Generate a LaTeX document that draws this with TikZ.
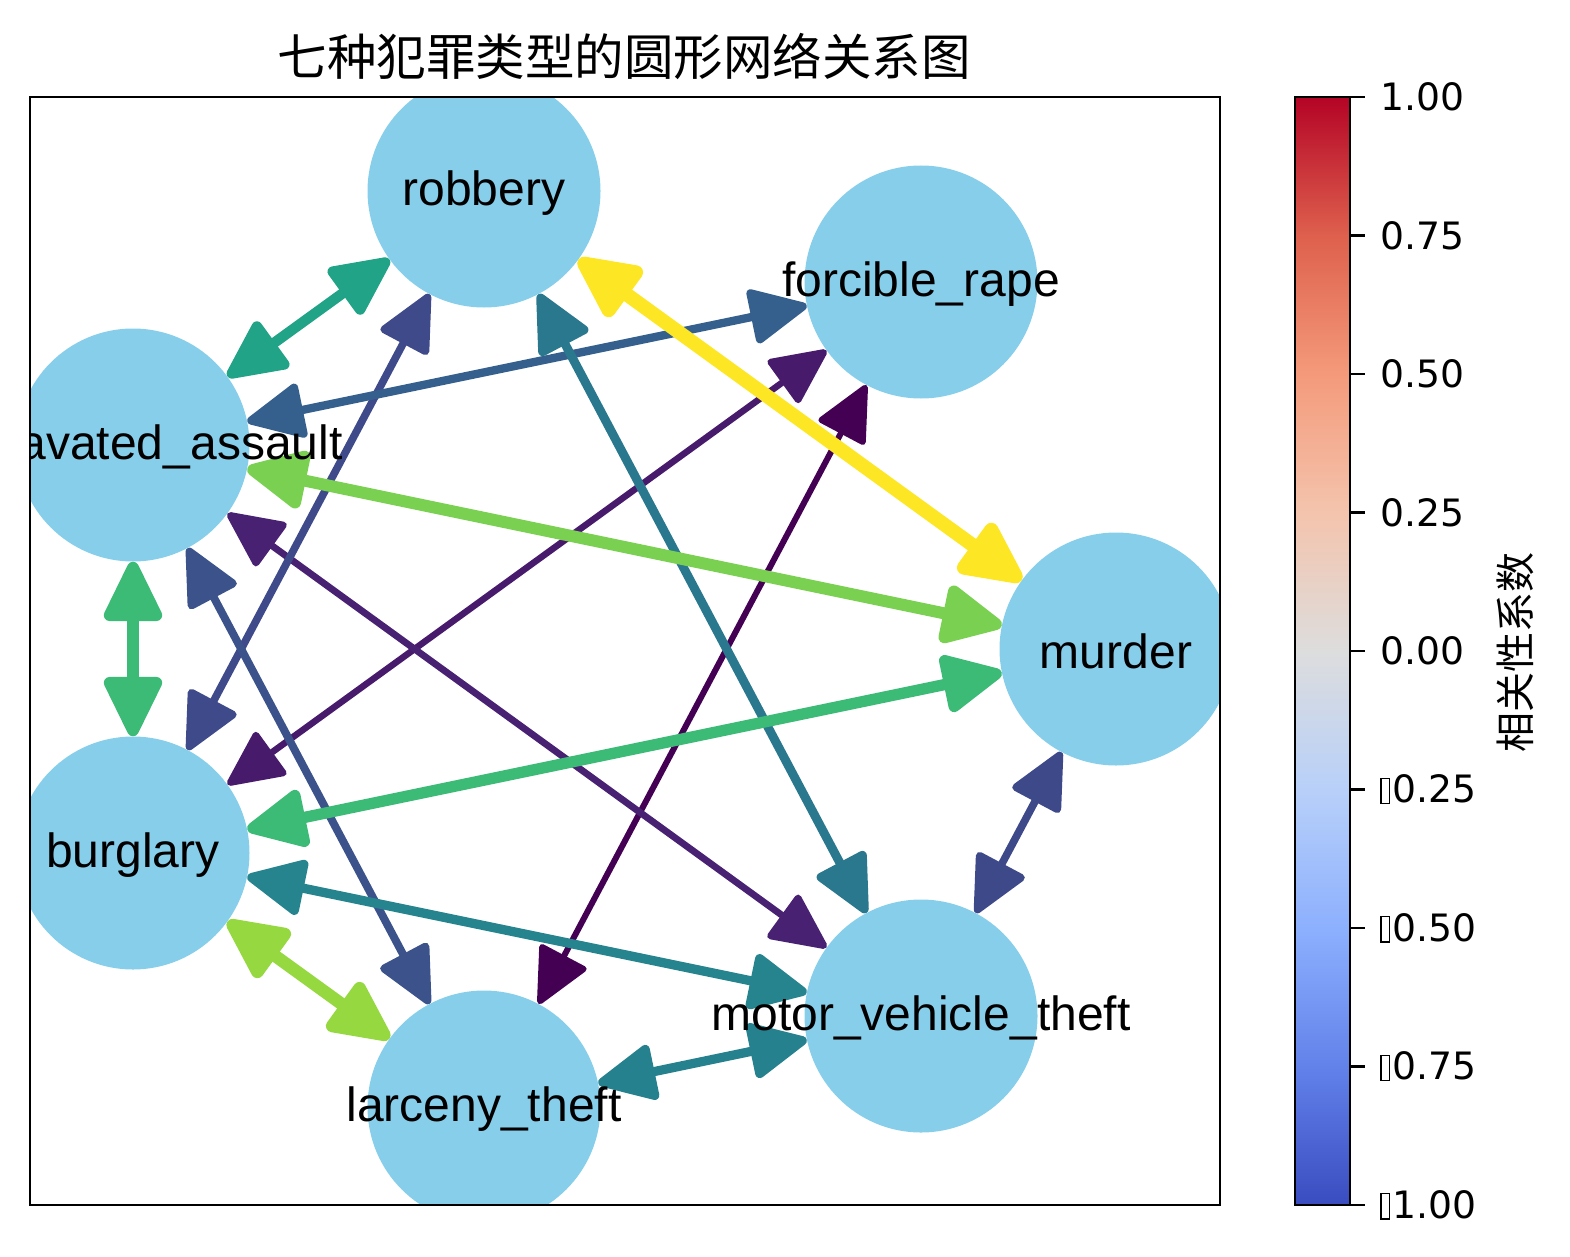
\documentclass[tikz,border=0pt]{standalone}
\usepackage{fontspec}
\setmainfont{Liberation Sans}
\newfontfamily\dejavu{DejaVu Sans}
\newfontfamily\cjk{Noto Sans CJK SC}
\usetikzlibrary{arrows.meta}
\definecolor{skyblue}{HTML}{87CEEB}
\definecolor{cw0}{RGB}{58,76,192}
\definecolor{cw1}{RGB}{98,130,234}
\definecolor{cw2}{RGB}{141,176,254}
\definecolor{cw3}{RGB}{184,208,249}
\definecolor{cw4}{RGB}{221,221,221}
\definecolor{cw5}{RGB}{244,196,173}
\definecolor{cw6}{RGB}{244,154,123}
\definecolor{cw7}{RGB}{222,96,77}
\definecolor{cw8}{RGB}{180,4,38}
\pgfdeclareverticalshading{coolwarm}{100bp}{color(0bp)=(cw0); color(25bp)=(cw0); color(31.25bp)=(cw1); color(37.5bp)=(cw2); color(43.75bp)=(cw3); color(50bp)=(cw4); color(56.25bp)=(cw5); color(62.5bp)=(cw6); color(68.75bp)=(cw7); color(75bp)=(cw8); color(100bp)=(cw8)}
\definecolor{vYel}{HTML}{FDE725}
\definecolor{vLime}{HTML}{95D840}
\definecolor{vLgreen}{HTML}{7AD151}
\definecolor{vGreen}{HTML}{3BBB75}
\definecolor{vTgreen}{HTML}{20A386}
\definecolor{vTealA}{HTML}{25848E}
\definecolor{vTealB}{HTML}{26818E}
\definecolor{vTealC}{HTML}{2A788E}
\definecolor{vBlueA}{HTML}{355F8D}
\definecolor{vBlueB}{HTML}{3B528B}
\definecolor{vBlueC}{HTML}{3E4A89}
\definecolor{vBlueD}{HTML}{3E4989}
\definecolor{vPurA}{HTML}{482173}
\definecolor{vPurB}{HTML}{481A6C}
\definecolor{vPurC}{HTML}{440154}
\pgfdeclarelayer{edgelayer}
\pgfsetlayers{edgelayer,main}
\newcommand{\tofubox}{{\setlength{\fboxsep}{0pt}\setlength{\fboxrule}{1.3pt}\fbox{\rule{0pt}{24pt}\hspace{7.5pt}}}\kern2pt}
\tikzset{
  >={Triangle[length=50pt 1.5,width=47pt 1.3,round]},
  crime/.style={circle, fill=skyblue, minimum size=233pt, inner sep=0pt},
  every label/.style={font=\fontsize{48}{56}\selectfont, inner sep=0pt, yshift=-2pt},
  link/.style n args={2}{draw=#1, line width=#2pt, <->},
  tick/.style={anchor=west, inner sep=0pt, font=\dejavu\fontsize{37.7}{44}\selectfont}
}
\begin{document}
\begin{tikzpicture}[x=1pt,y=-1pt]
\useasboundingbox (0,0) rectangle (1570,1257);
% title
\node[font=\cjk\fontsize{49.5}{56}\selectfont, inner sep=0pt] (title) at (624,57) {七种犯罪类型的圆形网络关系图};
% nodes, clipped to the axes
\begin{scope}
  \clip (30,97) rectangle (1220,1205);
  \node[crime, label={center:murder}] (mur) at (1116,649) {};
  \node[crime, label={center:forcible\_rape}] (fr) at (921,282) {};
  \node[crime, label={center:robbery}] (rob) at (484,191) {};
  \node[crime, label={center:aggravated\_assault}] (agg) at (133,445) {};
  \node[crime, label={center:burglary}] (bur) at (133,853) {};
  \node[crime, label={center:larceny\_theft}] (lar) at (484,1107) {};
  \node[crime, label={center:motor\_vehicle\_theft}] (mvt) at (921,1016) {};
\end{scope}
% edges
\begin{pgfonlayer}{edgelayer}
  \draw[link={vPurC}{6.0}] (fr) -- (lar);
  \draw[link={vPurB}{6.5}] (fr) -- (bur);
  \draw[link={vPurA}{6.8}] (agg) -- (mvt);
  \draw[link={vBlueD}{7.6}] (mur) -- (mvt);
  \draw[link={vBlueC}{7.6}] (rob) -- (bur);
  \draw[link={vBlueB}{7.9}] (agg) -- (lar);
  \draw[link={vBlueA}{8.3}] (fr) -- (agg);
  \draw[link={vTealC}{8.9}] (rob) -- (mvt);
  \draw[link={vTealB}{9.2}] (lar) -- (mvt);
  \draw[link={vTealA}{9.3}] (bur) -- (mvt);
  \draw[link={vTgreen}{10.4}] (rob) -- (agg);
  \draw[link={vGreen}{11.3}] (mur) -- (bur);
  \draw[link={vGreen}{11.6}] (agg) -- (bur);
  \draw[link={vLgreen}{12.0}] (agg) -- (mur);
  \draw[link={vLime}{12.5}] (bur) -- (lar);
  \draw[link={vYel}{14}] (rob) -- (mur);
\end{pgfonlayer}
% axes frame
\draw[line width=2.5pt] (30,97) rectangle (1220,1205);
% colorbar
\shade[shading=coolwarm] (1295,97) rectangle (1350,1205);
\draw[line width=2.5pt] (1295,97) rectangle (1350,1205);
\foreach \yy in {97,235.5,374,512.5,651,789.5,928,1066.5,1205}
  \draw[line width=2.5pt] (1350,\yy) -- (1365,\yy);
\node[tick] (t1) at (1380,97) {1.00};
\node[tick] (t2) at (1380,235.5) {0.75};
\node[tick] (t3) at (1380,374) {0.50};
\node[tick] (t4) at (1380,512.5) {0.25};
\node[tick] (t5) at (1380,651) {0.00};
\node[tick] (t6) at (1380,789.5) {\tofubox 0.25};
\node[tick] (t7) at (1380,928) {\tofubox 0.50};
\node[tick] (t8) at (1380,1066.5) {\tofubox 0.75};
\node[tick] (t9) at (1380,1205) {\tofubox 1.00};
\node[font=\cjk\fontsize{40}{46}\selectfont, rotate=90, inner sep=0pt] (cblabel) at (1515,652) {相关性系数};
\end{tikzpicture}
\end{document}
